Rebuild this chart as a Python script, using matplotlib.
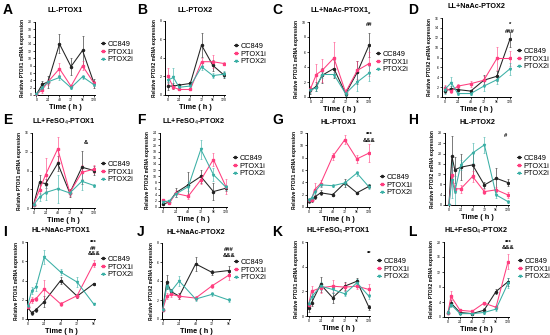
import numpy as np
import matplotlib
matplotlib.use("Agg")
import matplotlib.pyplot as plt

plt.rcParams["font.family"] = ["Liberation Sans", "DejaVu Sans"]

# time points (h)
t_ll = [0, 12, 24, 48, 72, 96, 120]
t_hl = [0, 6, 12, 24, 48, 72, 96, 120]
t_hl96 = [0, 6, 12, 24, 48, 72, 96]
t_fe = [0, 6, 24, 48, 72, 96, 120]

series_names = ["CC849", "PTOX1i", "PTOX2i"]

# A  LL-PTOX1
a_cc = [0.2, 2.9, 3.6, 14.0, 7.8, 12.2, 3.2]
a_cc_e = [0.2, 1.0, 1.6, 2.6, 2.2, 4.0, 1.2]
a_p1 = [0.2, 1.4, 3.6, 7.2, 2.4, 8.0, 3.2]
a_p1_e = [0.2, 0.8, 0.8, 1.6, 0.4, 1.2, 0.6]
a_p2 = [0.2, 2.0, 3.6, 4.8, 2.0, 5.0, 2.8]
a_p2_e = [0.2, 0.4, 0.6, 0.6, 0.4, 0.6, 0.4]

# B  LL-PTOX2
b_cc = [0.97, 0.97, 1.07, 1.25, 5.4, 3.2, 2.15]
b_cc_e = [0.4, 0.3, 0.15, 0.2, 1.3, 0.6, 0.3]
b_p1 = [2.05, 0.83, 0.6, 0.6, 3.6, 3.6, 3.4]
b_p1_e = [0.9, 0.2, 0.1, 0.1, 0.4, 0.7, 0.2]
b_p2 = [1.6, 1.9, 0.83, 0.97, 3.05, 2.1, 2.25]
b_p2_e = [0.3, 1.0, 0.1, 0.2, 0.4, 0.3, 0.3]

# C  LL+NaAc-PTOX1
c_cc = [0.9, 1.4, 2.9, 3.8, 0.45, 3.3, 6.9]
c_cc_e = [0.5, 0.6, 1.0, 1.2, 0.3, 1.5, 1.6]
c_p1 = [1.1, 3.0, 3.55, 5.2, 0.65, 3.55, 4.45]
c_p1_e = [0.4, 1.4, 1.5, 2.2, 0.4, 1.2, 1.6]
c_p2 = [0.9, 1.25, 3.0, 3.0, 0.45, 2.0, 3.2]
c_p2_e = [0.3, 0.5, 0.4, 0.3, 0.3, 1.2, 1.0]

# D  LL+NaAc-PTOX2
d_cc = [1.2, 1.7, 1.5, 1.2, 3.4, 4.2, 11.7]
d_cc_e = [0.4, 0.5, 0.3, 0.3, 1.0, 1.0, 1.5]
d_p1 = [1.9, 1.2, 2.2, 2.7, 3.4, 7.8, 7.8]
d_p1_e = [0.6, 0.4, 0.5, 0.6, 0.8, 2.4, 1.5]
d_p2 = [1.5, 2.9, 0.7, 0.7, 2.2, 3.5, 5.7]
d_p2_e = [0.8, 1.2, 0.3, 0.3, 1.0, 0.8, 1.2]

# E  LL+FeSO4-PTOX1
e_cc = [0.7, 5.5, 5.2, 9.5, 3.2, 8.7, 8.0]
e_cc_e = [0.3, 1.5, 1.0, 1.5, 0.8, 3.5, 1.0]
e_p1 = [0.7, 3.9, 7.1, 12.6, 3.3, 7.6, 8.3]
e_p1_e = [0.3, 1.0, 3.5, 2.5, 0.8, 1.5, 0.8]
e_p2 = [0.7, 2.3, 3.3, 4.1, 3.2, 5.7, 4.8]
e_p2_e = [0.3, 0.8, 1.5, 3.0, 0.5, 1.8, 0.4]

# F  LL+FeSO4-PTOX2
f_cc = [0.9, 1.65, 4.6, 7.2, 9.9, 5.0, 6.1]
f_cc_e = [0.3, 0.5, 1.5, 4.0, 2.0, 2.8, 0.8]
f_p1 = [2.2, 1.3, 4.4, 3.5, 8.8, 15.4, 6.6]
f_p1_e = [0.5, 0.4, 1.0, 0.8, 1.5, 2.0, 2.5]
f_p2 = [1.65, 2.0, 4.2, 6.6, 18.7, 10.5, 6.4]
f_p2_e = [0.4, 0.4, 0.8, 1.5, 3.0, 2.0, 0.8]

# G  HL-PTOX1
g_cc = [0.9, 1.1, 1.6, 2.3, 2.0, 3.9, 2.3, 3.35]
g_cc_e = [0.2, 0.3, 0.3, 0.4, 0.2, 0.7, 0.2, 0.3]
g_p1 = [1.1, 1.2, 2.8, 3.8, 8.2, 10.9, 7.8, 8.75]
g_p1_e = [0.2, 0.3, 1.1, 0.6, 0.5, 0.7, 0.6, 1.5]
g_p2 = [1.2, 1.45, 2.4, 3.6, 3.45, 3.9, 5.5, 3.25]
g_p2_e = [0.2, 0.2, 0.3, 0.3, 0.2, 0.3, 0.4, 0.4]

# H  HL-PTOX2
h_cc = [0.0, 18.9, 13.7, 14.7, 15.6, 7.8, 10.4, 8.7]
h_cc_e = [0.3, 8.0, 5.0, 5.0, 5.0, 1.0, 4.0, 1.5]
h_p1 = [0.0, 11.7, 6.3, 6.3, 11.1, 5.2, 5.9, 3.9]
h_p1_e = [0.3, 3.0, 1.5, 1.5, 2.0, 1.0, 1.0, 1.0]
h_p2 = [0.0, 9.8, 5.2, 15.6, 20.2, 23.4, 3.9, 1.3]
h_p2_e = [0.3, 7.0, 6.0, 2.0, 4.0, 3.0, 1.0, 0.5]

# I  HL+NaAc-PTOX1
i_cc = [1.2, 0.63, 0.97, 1.8, 4.0, 2.37, 3.65]
i_cc_e = [0.2, 0.2, 0.2, 0.6, 0.4, 0.2, 0.1]
i_p1 = [1.2, 2.0, 2.1, 3.1, 1.57, 2.43, 5.74]
i_p1_e = [0.2, 0.3, 0.2, 1.0, 0.2, 0.2, 0.35]
i_p2 = [1.4, 2.96, 3.3, 6.43, 4.87, 3.83, 1.57]
i_p2_e = [0.2, 0.4, 0.4, 0.7, 0.3, 0.5, 0.1]

# J  HL+NaAc-PTOX2
j_cc = [1.0, 3.9, 2.9, 2.4, 5.8, 4.9, 5.1]
j_cc_e = [0.2, 0.7, 0.3, 0.3, 0.7, 0.3, 0.5]
j_p1 = [1.0, 2.4, 2.6, 2.4, 2.2, 3.5, 4.6]
j_p1_e = [0.2, 0.3, 0.3, 0.3, 0.2, 0.2, 0.5]
j_p2 = [1.0, 3.5, 2.9, 4.0, 2.1, 2.6, 2.0]
j_p2_e = [0.2, 0.3, 0.2, 0.5, 0.2, 0.2, 0.2]

# K  HL+FeSO4-PTOX1
k_cc = [0.62, 1.08, 2.56, 1.48, 2.42, 2.82, 0.7]
k_cc_e = [0.3, 0.3, 0.6, 0.4, 0.3, 0.3, 0.2]
k_p1 = [0.89, 2.0, 2.29, 2.42, 2.34, 2.42, 2.15]
k_p1_e = [0.2, 0.4, 0.4, 0.5, 0.3, 0.2, 0.45]
k_p2 = [0.94, 1.53, 2.42, 2.15, 1.8, 2.7, 1.6]
k_p2_e = [0.2, 0.3, 0.3, 0.3, 0.2, 0.3, 0.2]

# L  HL+FeSO4-PTOX2
l_cc = [1.2, 3.7, 1.2, 0.9, 1.8, 6.8, 9.4]
l_cc_e = [0.3, 0.8, 0.3, 0.2, 0.5, 0.6, 1.0]
l_p1 = [1.2, 5.5, 1.8, 1.5, 3.7, 2.6, 14.7]
l_p1_e = [0.3, 1.5, 0.3, 0.3, 0.4, 0.4, 2.0]
l_p2 = [1.2, 3.3, 0.9, 0.9, 1.2, 2.1, 9.0]
l_p2_e = [0.3, 0.5, 0.2, 0.2, 0.3, 0.4, 1.3]

colors = ["#222222", "#ff3d7f", "#3aafa5"]
markers = ["o", "s", "v"]

W, H = 550, 335
fig = plt.figure(figsize=(W / 100, H / 100), dpi=100)


def box(x0, x1, y0, y1):
    return [x0 / W, 1 - y1 / H, (x1 - x0) / W, (y1 - y0) / H]


def panel(letter, title, gene, t, data, pos, ylim, ystep, xticks, xlim, leg_xy, marks):
    ax = fig.add_axes(box(*pos))
    for k in range(3):
        y, e = data[2 * k], data[2 * k + 1]
        ax.errorbar(t, y, yerr=e, fmt="none", ecolor=colors[k], elinewidth=0.6,
                    capsize=1.0, capthick=0.5, alpha=0.7, zorder=2)
        ax.plot(t, y, color=colors[k], lw=0.75, marker=markers[k], ms=1.5,
                label=series_names[k], zorder=3)
    ax.set_xlim(*xlim)
    ax.set_ylim(*ylim)
    ax.set_xticks(xticks)
    ax.set_yticks(np.arange(ylim[0], ylim[1] + 0.01, ystep))
    ax.tick_params(labelsize=2.5, length=1.5, width=0.5, pad=1)
    for s in ["top", "right"]:
        ax.spines[s].set_visible(False)
    for s in ["left", "bottom"]:
        ax.spines[s].set_linewidth(0.7)
    ax.set_xlabel("Time ( h )", fontsize=5.3, fontweight="bold", labelpad=1)
    ax.set_ylabel(f"Relative {gene} mRNA expression", fontsize=3.4,
                  fontweight="bold", labelpad=2)
    x0, x1, y0, y1 = pos
    fig.text((x0 + x1) / 2 / W, 1 - (y0 - 11) / H, title, fontsize=5.2,
             fontweight="bold", ha="center", va="center")
    idx = "ABCDEFGHIJKL".index(letter)
    fig.text([3, 137, 272, 408][idx % 4] / W, 1 - [3, 113, 225][idx // 4] / H, letter,
             fontsize=10, fontweight="bold", ha="left", va="top")
    ax.legend(loc="center left", bbox_to_anchor=(leg_xy[0] / W, 1 - leg_xy[1] / H),
              bbox_transform=fig.transFigure, frameon=False, fontsize=5.3,
              handlelength=0.55, handletextpad=0.3, labelspacing=0.05,
              borderpad=0, borderaxespad=0)
    for txt, xf, yf in marks:
        ax.text(xf, yf, txt, transform=ax.get_xaxis_transform(), fontsize=4.2,
                ha="center", va="center", fontweight="bold")
    return ax


x_ll = [0, 24, 48, 72, 96, 120]
x_96 = [0, 24, 48, 72, 96]

panel("A", "LL-PTOX1", "PTOX1", t_ll, [a_cc, a_cc_e, a_p1, a_p1_e, a_p2, a_p2_e],
      (35, 95, 22, 95), (0, 20), 2, x_ll, (-3, 122), (101, 52), [])
panel("B", "LL-PTOX2", "PTOX2", t_ll, [b_cc, b_cc_e, b_p1, b_p1_e, b_p2, b_p2_e],
      (165, 225, 21, 95), (0, 8), 2, x_ll, (-6, 122), (234, 54), [])
panel("C", "LL+NaAc-PTOX1", "PTOX1", t_ll, [c_cc, c_cc_e, c_p1, c_p1_e, c_p2, c_p2_e],
      (309, 370, 22, 97), (0, 10), 2, x_ll, (-3, 122), (376, 62),
      [("*", 120, 1.1), ("##", 120, 0.97)])
panel("D", "LL+NaAc-PTOX2", "PTOX2", t_ll, [d_cc, d_cc_e, d_p1, d_p1_e, d_p2, d_p2_e],
      (442, 511, 18, 97), (0, 16), 2, x_ll, (-5, 122), (517, 59),
      [("*", 120, 0.92), ("###", 120, 0.83)])
panel("E", "LL+FeSO$_4$-PTOX1", "PTOX1", t_ll, [e_cc, e_cc_e, e_p1, e_p1_e, e_p2, e_p2_e],
      (32, 95, 133, 208), (0, 16), 4, x_ll, (-3, 122), (101, 172), [("&", 103, 0.88)])
panel("F", "LL+FeSO$_4$-PTOX2", "PTOX2", t_ll, [f_cc, f_cc_e, f_p1, f_p1_e, f_p2, f_p2_e],
      (160, 227, 133, 207), (0, 24), 2, x_ll, (-6, 122), (233, 166), [])
panel("G", "HL-PTOX1", "PTOX1", t_hl, [g_cc, g_cc_e, g_p1, g_p1_e, g_p2, g_p2_e],
      (307, 370, 133, 207), (0, 12), 2, x_ll, (-3, 122), (380, 185),
      [("***", 120, 0.98), ("&&&", 120, 0.9)])
panel("H", "HL-PTOX2", "PTOX2", t_hl, [h_cc, h_cc_e, h_p1, h_p1_e, h_p2, h_p2_e],
      (445, 509, 133, 205), (0, 28), 4, x_ll, (-8, 122), (517, 166), [("#", 114, 0.97)])
panel("I", "HL+NaAc-PTOX1", "PTOX1", t_hl96, [i_cc, i_cc_e, i_p1, i_p1_e, i_p2, i_p2_e],
      (27, 95, 242, 319), (0, 8), 2, x_96, (-1, 98), (101, 267),
      [("***", 96, 0.99), ("##", 96, 0.92), ("&&&", 96, 0.85)])
panel("J", "HL+NaAc-PTOX2", "PTOX2", t_hl96, [j_cc, j_cc_e, j_p1, j_p1_e, j_p2, j_p2_e],
      (162, 230, 243, 319), (0, 8), 2, x_96, (-1, 98), (234, 270),
      [("###", 96, 0.91), ("&&&", 96, 0.84)])
panel("K", "HL+FeSO$_4$-PTOX1", "PTOX1", t_fe, [k_cc, k_cc_e, k_p1, k_p1_e, k_p2, k_p2_e],
      (307, 370, 242, 316), (0, 6), 2, x_ll, (-3, 122), (377, 269), [("**", 120, 0.84)])
panel("L", "HL+FeSO$_4$-PTOX2", "PTOX2", t_fe, [l_cc, l_cc_e, l_p1, l_p1_e, l_p2, l_p2_e],
      (444, 509, 242, 317), (0, 20), 4, x_ll, (-8, 122), (518, 269),
      [("***", 120, 1.0), ("&&&", 120, 0.93)])

fig.savefig("out.png", dpi=100)
